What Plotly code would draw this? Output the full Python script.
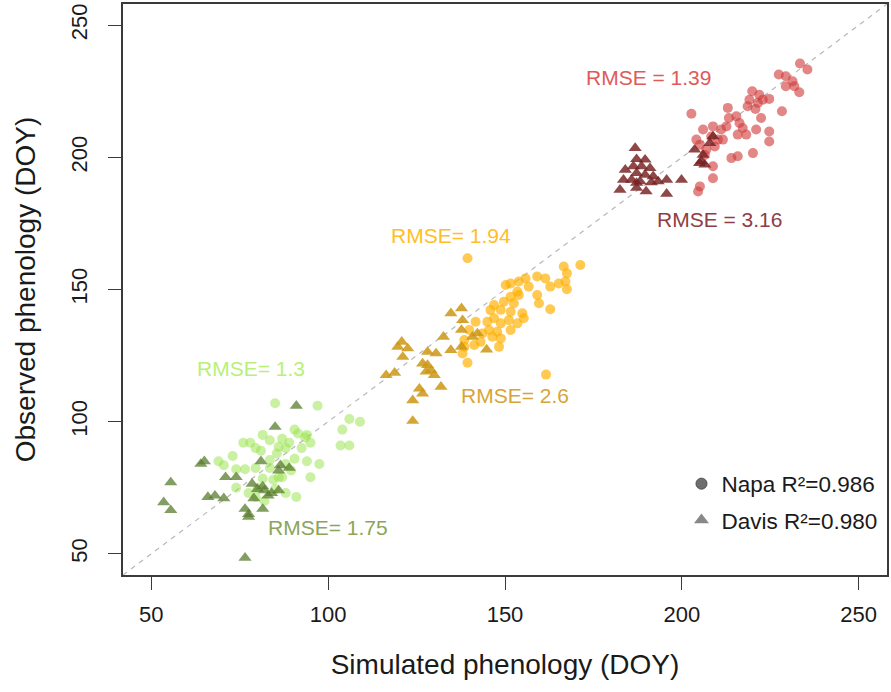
import plotly.graph_objects as go

# Simulated vs observed phenology (day of year), Napa (circles) and Davis (triangles)
# Stage 1 (green)
napa_s1_sim = [85, 97, 106, 109, 104, 103.5, 106, 90.5, 81.5, 83.5, 76, 78, 79.5, 81, 73, 69, 70.5, 74,
               76.5, 79.5, 83.5, 85.5, 88, 89, 92.5, 95, 94, 94, 97.5, 95, 90.5, 88, 87, 84.5, 81.5, 80,
               74, 77.5, 85, 88, 91, 82, 79.5, 86, 89.5, 83.5, 86, 87, 91.5, 93.5]
napa_s1_obs = [107, 106, 101, 100, 97, 91, 91, 97, 95, 93, 92, 92, 90, 89, 87, 85, 83.5, 82,
               82, 82.5, 82.5, 88, 90, 92, 90, 92, 95, 85, 84, 79, 86, 84, 79, 78, 78.5, 75,
               75, 73, 74.5, 73, 71.5, 70, 71.5, 79, 81.5, 85.5, 90.5, 93.5, 95.5, 94]
davis_s1_sim = [91, 85, 65, 64, 55.5, 53.5, 55.5, 66, 68, 70.5, 71, 74, 78.5, 81, 81.5, 82, 79, 83, 86,
                86.5, 89, 86, 76.5, 77.5, 77.5, 81.5, 76.5, 84, 80]
davis_s1_obs = [106, 98, 85, 84, 77, 69.5, 66.5, 71.5, 72, 71, 79, 79, 76.5, 85, 75.5, 74, 71, 72, 74,
                83.5, 82.5, 81.5, 67, 65, 64, 67, 48.5, 73, 74.5]

# Stage 2 (yellow / gold)
napa_s2_sim = [139.4, 171.3, 166.6, 167.5, 159.1, 161.4, 151.6, 153.9, 155.8, 162.8, 165.2, 167.1, 167.5,
               159.1, 159.6, 162.8, 153.5, 151.6, 152.5, 149.7, 146.9, 148.8, 145.9, 151.6, 154.9, 155.3,
               153.5, 151.1, 148.8, 146.9, 145.0, 145.5, 147.8, 151.6, 141.7, 143.6, 146.4, 148.8, 148.3,
               143.1, 141.3, 138.5, 138.5, 138.0, 139.4, 161.6, 139.9, 153.9, 156.7, 150.2]
napa_s2_obs = [161.8, 159.3, 158.7, 156.1, 154.9, 154.2, 152.3, 153.0, 154.2, 151.1, 152.3, 153.0, 150.1,
               147.9, 144.8, 142.5, 149.2, 147.3, 144.8, 145.4, 144.1, 142.3, 142.2, 141.6, 141.0, 139.1,
               137.2, 138.4, 137.2, 139.1, 137.8, 134.7, 134.0, 134.7, 137.8, 133.4, 132.1, 131.5, 128.3,
               130.2, 129.0, 128.3, 130.9, 125.8, 122.3, 117.8, 134.7, 147.9, 151.1, 151.7]
davis_s2_sim = [134.7, 137.7, 138.0, 137.7, 132.6, 140.8, 142.2, 134.7, 137.7, 144.8, 120.8, 119.7, 122.5,
                121.1, 128.1, 130.5, 126.7, 128.1, 129.1, 127.7, 130.0, 116.4, 118.8, 131.9, 125.8, 126.7,
                123.9, 123.9]
davis_s2_obs = [141.0, 142.9, 138.4, 134.7, 132.1, 132.1, 133.4, 127.1, 128.3, 127.3, 130.2, 128.3, 127.7,
                124.5, 126.4, 125.8, 122.0, 121.4, 119.5, 118.9, 117.6, 117.6, 118.5, 113.2, 112.5, 110.6,
                108.1, 100.3]

# Stage 3 (red)
napa_s3_sim = [233.4, 235.5, 227.4, 229.4, 231.3, 231.8, 229.4, 233.2, 219.9, 219.1, 221.9, 222.9, 224.7,
               221.5, 220.8, 218.6, 228.3, 213.0, 215.4, 202.7, 213.3, 212.6, 216.3, 217.2, 218.2, 221.0,
               222.4, 215.8, 224.7, 224.7, 220.1, 215.8, 214.0, 211.1, 208.8, 206.0, 208.3, 210.2, 209.3,
               205.1, 206.5, 208.8, 208.8, 205.1, 204.6, 204.1, 211.6, 206.9]
napa_s3_obs = [235.5, 233.2, 231.3, 230.7, 228.8, 226.9, 226.9, 224.6, 225.0, 221.8, 223.7, 221.8, 222.1,
               220.6, 218.3, 219.3, 217.4, 218.7, 215.5, 216.5, 214.9, 211.7, 213.0, 211.1, 208.6, 210.5,
               214.9, 208.6, 209.8, 206.0, 201.6, 200.4, 199.7, 210.5, 211.7, 210.5, 207.9, 206.7, 204.1,
               204.8, 200.9, 196.6, 192.1, 189.0, 187.1, 206.7, 206.7, 202.9]
davis_s3_sim = [186.8, 189.6, 187.2, 184.0, 186.3, 188.6, 191.0, 187.2, 189.6, 191.9, 183.5, 185.8, 188.2,
                193.3, 195.7, 199.9, 182.5, 187.2, 189.9, 195.7, 203.6, 206.0, 207.9, 208.8, 205.5, 205.0,
                206.5, 187.2, 191.4]
davis_s3_obs = [203.5, 199.1, 199.3, 195.3, 196.6, 196.6, 195.9, 194.0, 193.4, 192.8, 191.5, 191.5, 190.9,
                190.9, 191.5, 191.5, 187.7, 188.4, 187.1, 186.2, 202.9, 200.9, 205.4, 207.9, 198.5, 197.8,
                197.2, 190.3, 190.5]

# RMSE labels: (x, y, text)
rmse_x = [190.6, 210.6, 134.8, 152.9, 78.1, 99.9]
rmse_y = [230.2, 176.4, 170.3, 110, 120.2, 59.8]
rmse_text = ["RMSE = 1.39", "RMSE = 3.16", "RMSE= 1.94", "RMSE= 2.6", "RMSE= 1.3", "RMSE= 1.75"]
rmse_color = ["#e05a5a", "#8e3e44", "#ffbe28", "#d7a537", "#b9f078", "#8ca55a"]

ticks = [50, 100, 150, 200, 250]
legend_labels = ["Napa R²=0.986", "Davis R²=0.980"]

FONT = "Liberation Sans, Arial, sans-serif"
AXIS = "#3a3a3a"

fig = go.Figure()

series = [
    (napa_s1_sim, napa_s1_obs, "circle", 10, "rgba(150,225,70,0.5)"),
    (napa_s2_sim, napa_s2_obs, "circle", 10, "rgba(255,176,0,0.68)"),
    (napa_s3_sim, napa_s3_obs, "circle", 10, "rgba(208,60,60,0.62)"),
    (davis_s1_sim, davis_s1_obs, "triangle-up", 11.5, "rgba(90,125,45,0.75)"),
    (davis_s2_sim, davis_s2_obs, "triangle-up", 11.5, "rgba(205,150,20,0.85)"),
    (davis_s3_sim, davis_s3_obs, "triangle-up", 11.5, "rgba(118,32,32,0.82)"),
]
for xs, ys, sym, size, col in series:
    fig.add_trace(go.Scatter(
        x=xs, y=ys, mode="markers", showlegend=False,
        marker=dict(symbol=sym, size=size, color=col, line=dict(width=0)),
    ))

# legend-only entries
fig.add_trace(go.Scatter(
    x=[None], y=[None], mode="markers", name=legend_labels[0], legendgroup="a",
    marker=dict(symbol="circle", size=11, color="#6e6e6e", line=dict(width=1, color="#4a4a4a")),
))
fig.add_trace(go.Scatter(
    x=[None], y=[None], mode="markers", name=legend_labels[1], legendgroup="b",
    marker=dict(symbol="triangle-up", size=13, color="#888888", line=dict(width=0)),
))

# 1:1 line
fig.add_shape(type="line", xref="x", yref="y", x0=42, y0=42, x1=258, y1=258,
              line=dict(color="#b8b8b8", width=1.2, dash="5px,5px"), layer="below")

for x, y, t, c in zip(rmse_x, rmse_y, rmse_text, rmse_color):
    fig.add_annotation(x=x, y=y, text=t, showarrow=False, xref="x", yref="y",
                       font=dict(family=FONT, size=21, color=c))

axis_common = dict(
    range=[42, 258], tickvals=ticks, showgrid=False, zeroline=False,
    showline=True, mirror=True, linecolor=AXIS, linewidth=1.5,
    ticks="outside", ticklen=13, tickwidth=1.3, tickcolor=AXIS,
    tickfont=dict(family=FONT, size=22, color="#1a1a1a"),
)

fig.update_layout(
    width=891, height=692,
    margin=dict(l=123, r=2, t=4, b=117),
    paper_bgcolor="white", plot_bgcolor="white",
    font=dict(family=FONT, color="#1a1a1a"),
    xaxis=dict(**axis_common, ticklabelstandoff=6,
               title=dict(text="Simulated phenology (DOY)", standoff=28,
                          font=dict(family=FONT, size=28, color="#1a1a1a"))),
    yaxis=dict(**axis_common, tickangle=-90, ticklabelstandoff=12,
               title=dict(text="Observed phenology (DOY)", standoff=24,
                          font=dict(family=FONT, size=28, color="#1a1a1a"))),
    legend=dict(x=0.731, y=0.197, xanchor="left", yanchor="top",
                bgcolor="rgba(0,0,0,0)", borderwidth=0,
                traceorder="grouped", tracegroupgap=4,
                font=dict(family=FONT, size=22.5, color="#1a1a1a")),
)

fig.write_html("out.html")
